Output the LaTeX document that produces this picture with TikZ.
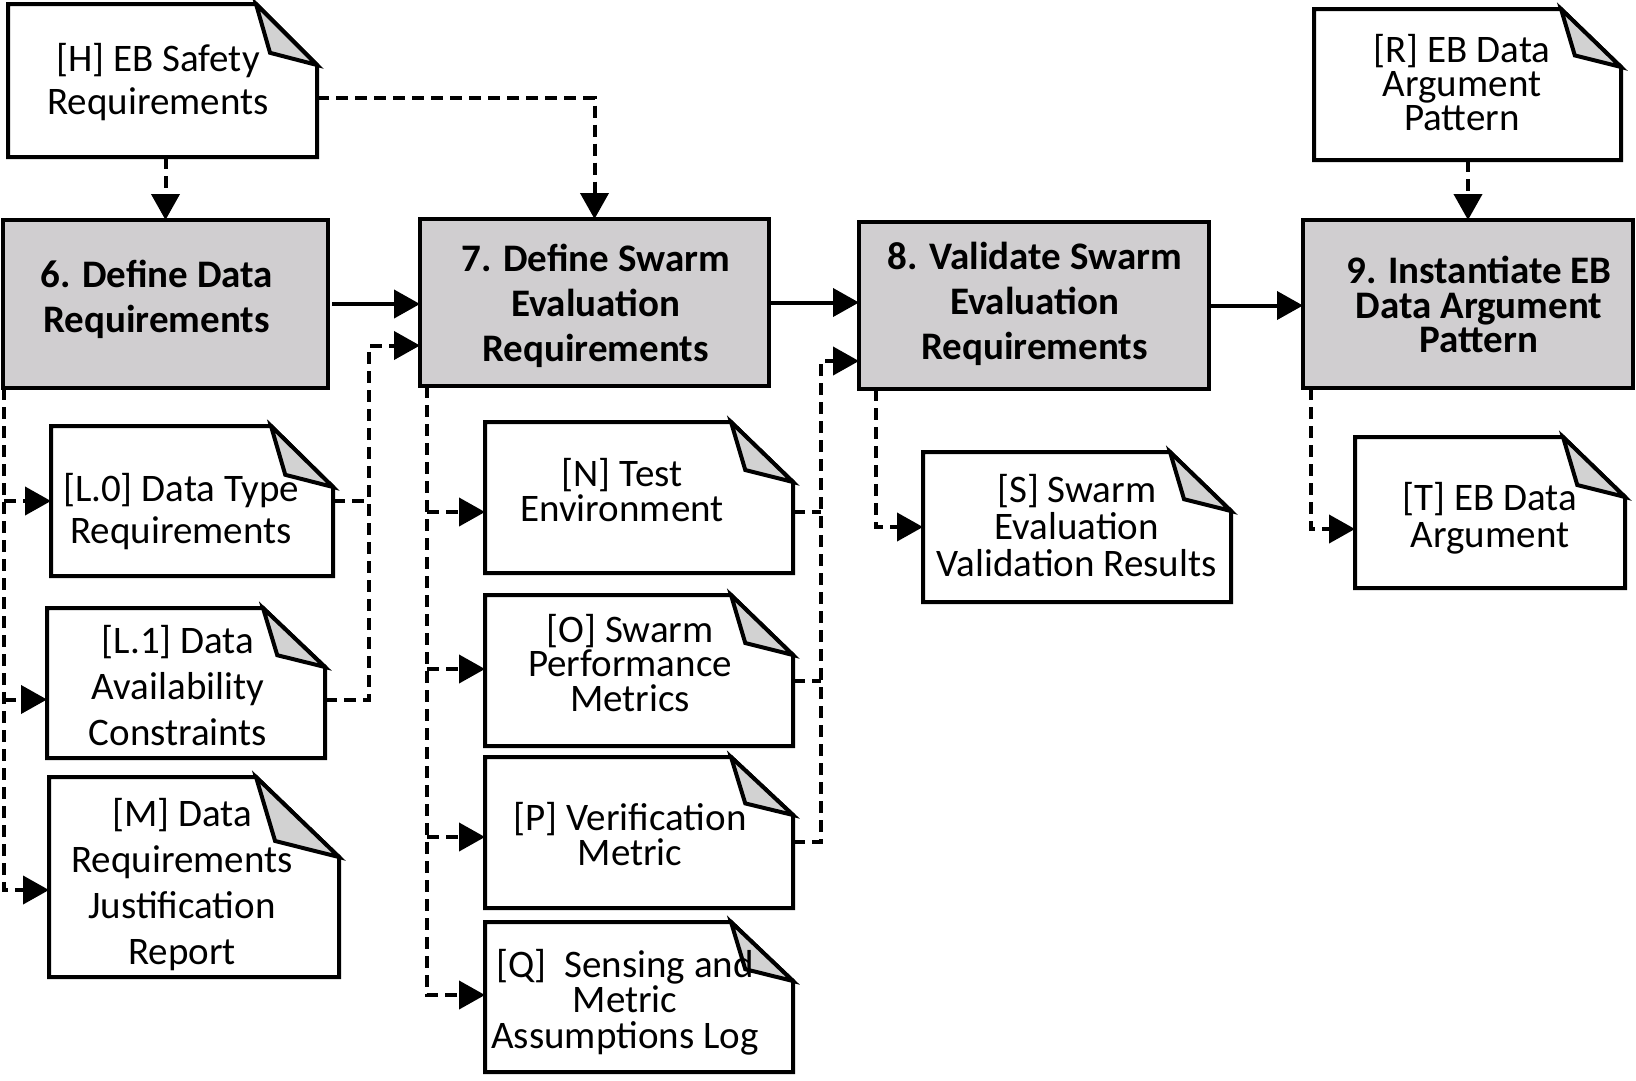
\documentclass[tikz,border=0pt]{standalone}
\usepackage{fontspec}
\setmainfont{Carlito}
\usetikzlibrary{arrows.meta,calc}
\definecolor{boxgray}{RGB}{208,206,208}
\definecolor{foldgray}{RGB}{210,210,210}
\newcommand\docframe[3]{%
  \draw[docline] (#1.north west) -- ($(#1.north east)+(-#2,0)$) -- ($(#1.north east)+(0,#3)$) -- (#1.south east) -- (#1.south west) -- cycle;
  \draw[docline,fill=foldgray] ($(#1.north east)+(-#2,0)$) -- ($(#1.north east)+({-0.77*#2},{0.8*#3})$) -- ($(#1.north east)+(0,#3)$) -- cycle;}
\begin{document}
\begin{tikzpicture}[x=1pt,y=-1pt,
  mainbox/.style={draw, line width=4pt, fill=boxgray, inner sep=0pt, outer sep=0pt, rectangle},
  docbox/.style={draw=none, inner sep=0pt, outer sep=0pt, rectangle},
  docline/.style={line width=4pt, line join=miter},
  txt/.style={align=center, inner sep=0pt, font={\fontsize{39}{#1}\selectfont}},
  ttl/.style={align=center, inner sep=0pt, font={\fontsize{39}{#1}\selectfont\bfseries}},
  dsh/.style={line width=4pt, dash pattern=on 12pt off 7pt},
  dsha/.style={dsh, -{Triangle[length=26pt,width=28pt]}},
  sola/.style={line width=4pt, -{Triangle[length=26pt,width=28pt]}}]
\useasboundingbox (0,0) rectangle (1636,1080);

% main process boxes
\node[mainbox, minimum width=325pt, minimum height=168pt] (b6) at (165.5,304) {};
\node[mainbox, minimum width=349pt, minimum height=167pt] (b7) at (594.5,302.5) {};
\node[mainbox, minimum width=350pt, minimum height=167pt] (b8) at (1034,305.5) {};
\node[mainbox, minimum width=330pt, minimum height=168pt] (b9) at (1468,304) {};

% document frames
\node[docbox, minimum width=309pt, minimum height=153pt] (dH) at (162.5,80.5) {};
\node[docbox, minimum width=307pt, minimum height=151pt] (dR) at (1467.5,84.5) {};
\node[docbox, minimum width=282pt, minimum height=150pt] (dL0) at (192,501) {};
\node[docbox, minimum width=278pt, minimum height=150pt] (dL1) at (186,683) {};
\node[docbox, minimum width=290pt, minimum height=200pt] (dM) at (194,877) {};
\node[docbox, minimum width=308pt, minimum height=151pt] (dN) at (639,497.5) {};
\node[docbox, minimum width=308pt, minimum height=151pt] (dO) at (639,670.5) {};
\node[docbox, minimum width=308pt, minimum height=151pt] (dP) at (639,832.5) {};
\node[docbox, minimum width=308pt, minimum height=150pt] (dQ) at (639,997) {};
\node[docbox, minimum width=308pt, minimum height=150pt] (dS) at (1077,527) {};
\node[docbox, minimum width=270pt, minimum height=151pt] (dT) at (1490,512.5) {};
\docframe{dH}{61}{61}
\docframe{dR}{60}{58}
\docframe{dL0}{62}{61}
\docframe{dL1}{62}{59}
\docframe{dM}{83}{80}
\docframe{dN}{62}{60}
\docframe{dO}{62}{60}
\docframe{dP}{62}{58}
\docframe{dQ}{62}{59}
\docframe{dS}{61}{59}
\docframe{dT}{62}{60}

% texts
\node[ttl=44.5] (t6) at (156.7,299.5) {6. Define Data\\Requirements};
\node[ttl=45] (t7) at (595.7,305.5) {7. Define Swarm\\Evaluation\\Requirements};
\node[ttl=45] (t8) at (1034.7,304) {8. Validate Swarm\\Evaluation\\Requirements};
\node[ttl=34.5] (t9) at (1479,304.5) {9. Instantiate EB\\Data Argument\\Pattern};
\node[txt=43] (tH) at (158,82) {[H] EB Safety\\Requirements};
\node[txt=34] (tR) at (1462,83) {[R] EB Data\\Argument\\Pattern};
\node[txt=42] (tL0) at (181,512) {[L.0] Data Type\\Requirements};
\node[txt=46] (tL1) at (178,686) {[L.1] Data\\Availability\\Constraints};
\node[txt=46] (tM) at (182,884.5) {[M] Data\\Requirements\\Justification\\Report};
\node[txt=35] (tN) at (622,490) {[N] Test\\Environment};
\node[txt=34.5] (tO) at (630,663) {[O] Swarm\\Performance\\Metrics};
\node[txt=34.5] (tP) at (630,834) {[P] Verification\\Metric};
\node[txt=35.5] (tQ) at (625,1002) {[Q]\ \ Sensing and\\Metric\\Assumptions Log};
\node[txt=36.7] (tS) at (1076.7,525.5) {[S] Swarm\\Evaluation\\Validation Results};
\node[txt=36.5] (tT) at (1490,518) {[T] EB Data\\Argument};

% inputs from the top
\draw[dsha] (dH.south -| b6.north) -- (b6.north);
\draw[dsha] ($(dH.east)+(0,17.5)$) -| (b7.north);
\draw[dsha] (dR.south -| b9.north) -- (b9.north);

% main flow
\draw[sola] ($(b6.east)+(4,0)$) -- (b6.east -| b7.west);
\draw[sola] (b7.east) -- (b7.east -| b8.west);
\draw[sola] (b8.east) -- (b8.east -| b9.west);

% outputs of 6
\coordinate (s6) at ($(b6.south west)+(1,0)$);
\coordinate (l1in) at ($(dL1.west)+(0,16.5)$);
\coordinate (min) at ($(dM.west)+(0,13)$);
\draw[dsha] (s6) |- (min);
\draw[dsha] (dL0.west -| s6) -- (dL0.west);
\draw[dsha] (l1in -| s6) -- (l1in);

% L.0 and L.1 into 7
\coordinate (k7) at ($(b7.west)+(-51,43)$);
\coordinate (l1out) at ($(dL1.east)+(0,16.5)$);
\draw[dsha] (l1out) -| (k7) -- (k7 -| b7.west);
\draw[dsh] (dL0.east) -- (dL0.east -| k7);

% outputs of 7
\coordinate (s7) at ($(b7.south west)+(7,0)$);
\coordinate (nin) at ($(dN.west)+(0,14.5)$);
\coordinate (oin) at ($(dO.west)+(0,-1.5)$);
\coordinate (pin) at ($(dP.west)+(0,4.5)$);
\coordinate (qin) at ($(dQ.west)+(0,-2)$);
\draw[dsha] (s7) |- (qin);
\draw[dsha] (nin -| s7) -- (nin);
\draw[dsha] (oin -| s7) -- (oin);
\draw[dsha] (pin -| s7) -- (pin);

% N, O, P into 8
\coordinate (k8) at ($(b8.west)+(-38,55.5)$);
\coordinate (nout) at ($(dN.east)+(0,14.5)$);
\coordinate (oout) at ($(dO.east)+(0,10.5)$);
\coordinate (pout) at ($(dP.east)+(0,9.5)$);
\draw[dsha] (pout) -| (k8) -- (k8 -| b8.west);
\draw[dsh] (nout) -- (nout -| k8);
\draw[dsh] (oout) -- (oout -| k8);

% 8 -> S, 9 -> T
\coordinate (s8) at ($(b8.south west)+(17,0)$);
\draw[dsha] (s8) |- (dS.west);
\coordinate (s9) at ($(b9.south west)+(8,0)$);
\coordinate (tin) at ($(dT.west)+(0,16.5)$);
\draw[dsha] (s9) |- (tin);
\end{tikzpicture}
\end{document}
